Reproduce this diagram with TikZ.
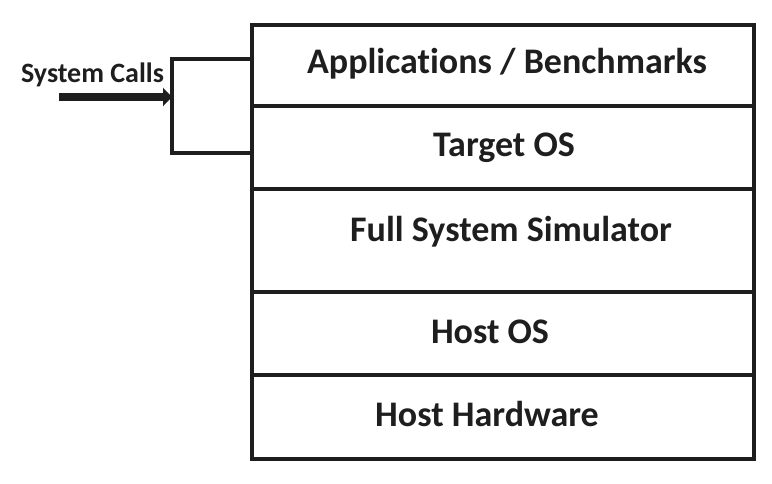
\documentclass[tikz,border=0pt]{standalone}
\usepackage{fontspec}
\setmainfont[Ligatures={NoCommon}]{Carlito}
\usetikzlibrary{arrows.meta}
\definecolor{ink}{HTML}{1E1E1E}
\tikzset{
  layer/.style={draw=ink, line width=4pt, minimum width=502pt, inner sep=0pt, anchor=north west},
  lbl/.style={text=ink, font=\bfseries\fontsize{36}{38}\selectfont, inner sep=0pt, anchor=base},
  wire/.style={draw=ink, line width=4pt},
}
\begin{document}
\begin{tikzpicture}[x=1pt,y=-1pt]
\useasboundingbox (0,0) rectangle (772,484);
\node[layer, minimum height=81pt] (app) at (250,23) {};
\node[layer, minimum height=83pt] (tos) at (250,104) {};
\node[layer, minimum height=103pt] (fss) at (250,187) {};
\node[layer, minimum height=83pt] (hos) at (250,290) {};
\node[layer, minimum height=84pt] (hhw) at (250,373) {};
\node[lbl] (tapp) at (507,74) {Applications / Benchmarks};
\node[lbl] (ttos) at (504,157) {Target OS};
\node[lbl] (tfss) at (511,241) {Full System Simulator};
\node[lbl] (thos) at (490,343) {Host OS};
\node[lbl] (thhw) at (487,426) {Host Hardware};
\coordinate (bt) at (172,59);
\coordinate (bb) at (172,153);
\coordinate (bm) at (172,97);
\coordinate (src) at (59,97);
\draw[wire, line join=miter] (app.west |- bt) -- (bt) -- (bb) -- (tos.west |- bb);
\draw[draw=ink, line width=8pt, -{Triangle[length=9pt,width=18pt]}] (src) -- (bm);
\node[lbl, font=\bfseries\fontsize{28}{30}\selectfont] (sc) at (92.5,83) {System Calls};
\end{tikzpicture}
\end{document}
